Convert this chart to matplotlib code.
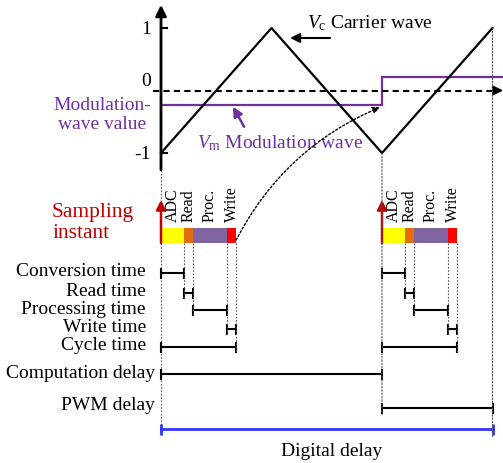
import matplotlib.pyplot as plt
from matplotlib.patches import ConnectionPatch
import numpy as np

plt.rcParams['font.family'] = 'Liberation Serif'
plt.rcParams['mathtext.fontset'] = 'custom'
plt.rcParams['mathtext.rm'] = 'Liberation Serif'
plt.rcParams['mathtext.it'] = 'Liberation Serif:italic'

# time axis in carrier periods (sampling instant = 0 and 1)
carrier_t = [0.0, 0.5, 1.0, 1.5]
carrier_v = [-1, 1, -1, 1]
mod_edges = [0.0, 1.0, 1.55]
mod_levels = [-0.23, 0.22]

samples = [0.0, 1.0]
seg_names = ['ADC', 'Read', 'Proc.', 'Write']
seg_dur = [0.104, 0.041, 0.154, 0.041]
seg_colors = ['#FFFF00', '#E46C0A', '#8064A2', '#FF0000']
row_names = ['Conversion time', 'Read time', 'Processing time', 'Write time', 'Cycle time']
comp_delay = (0.0, 1.0)
pwm_delay = (1.0, 1.5)
digital_delay = (0.0, 1.5)

PURPLE = '#7030A0'
DRED = '#C00000'
FS = 14

W, H = 503, 463
fig = plt.figure(figsize=(W / 100, H / 100), dpi=100)
xlim = (-161 / 221, (W - 161) / 221)

# lower part: timing rows, y in pixel-like layout units
ax = fig.add_axes([0, 0, 1, 1])
ax.set_xlim(*xlim)
ax.set_ylim(H, 0)
ax.axis('off')

# upper part: carrier / modulation waves
top_h = 180
axt = fig.add_axes([0, 1 - top_h / H, 1, top_h / H])
axt.set_xlim(*xlim)
axt.set_ylim(-(top_h - 90.5) / 62.5, 90.5 / 62.5)
axt.axis('off')
axt.patch.set_alpha(0)

# vertical axis with arrow
axt.annotate('', xy=(0, 1.37), xytext=(0, -1.27),
             arrowprops=dict(arrowstyle='-|>', lw=2, color='k', mutation_scale=16,
                             shrinkA=0, shrinkB=0))
for v, lab in [(1, '1'), (-1, '-1')]:
    axt.plot([0, 0.025], [v, v], color='k', lw=1.5)
    axt.text(-0.045, v - 0.03, lab, ha='right', va='center', fontsize=FS)
axt.text(-0.045, 0.15, '0', ha='right', va='center', fontsize=FS)

# zero line dashed with arrow
axt.plot([-0.036, 1.52], [0, 0], color='k', lw=1.5, ls=(0, (3, 2)))
axt.annotate('', xy=(1.548, 0), xytext=(1.52, 0),
             arrowprops=dict(arrowstyle='-|>', lw=1.5, color='k', mutation_scale=14,
                             shrinkA=0, shrinkB=0))

axt.plot(carrier_t, carrier_v, color='k', lw=1.6)
axt.stairs(mod_levels, mod_edges, baseline=None, color=PURPLE, lw=1.6)

axt.text(0.661, 1.08, r'$V_{\mathrm{c}}$ Carrier wave', ha='left', va='center', fontsize=FS)
axt.annotate('', xy=(0.584, 0.84), xytext=(0.765, 0.84),
             arrowprops=dict(arrowstyle='-|>', lw=1.5, color='k', mutation_scale=14,
                             shrinkA=0, shrinkB=0))
axt.text(0.163, -0.84, r'$V_{\mathrm{m}}$ Modulation wave', ha='left', va='center',
         fontsize=FS, color=PURPLE)
axt.annotate('', xy=(0.326, -0.26), xytext=(0.376, -0.58),
             arrowprops=dict(arrowstyle='-|>', lw=1.8, color=PURPLE, mutation_scale=14,
                             shrinkA=0, shrinkB=0))
axt.text(-0.267, -0.39, 'Modulation-\nwave value', ha='center', va='center',
         fontsize=FS, color=PURPLE, linespacing=1.2)

# rows layout (pixel units)
bar_top, bar_bot = 228, 243
row_y = [273, 293, 310, 329, 347]
comp_y, pwm_y, dig_y = 374, 408, 429
tick = 5.5
dot = dict(color='#555555', lw=0.8, ls=(0, (1.5, 1.5)))


def bracket(x0, x1, y, color='k', lw=1.5):
    ax.plot([x0, x1], [y, y], color=color, lw=lw)
    ax.vlines([x0, x1], y - tick, y + tick, color=color, lw=lw)


for s in samples:
    left = s + np.concatenate([[0], np.cumsum(seg_dur)[:-1]])
    ax.barh((bar_top + bar_bot) / 2, seg_dur, left=left, height=bar_bot - bar_top,
            color=seg_colors, zorder=3)
    for name, l, d in zip(seg_names, left, seg_dur):
        ax.text(l + d / 2, 222, name, rotation=90, ha='center', va='bottom', fontsize=11.5)
    ax.annotate('', xy=(s, 200), xytext=(s, bar_bot),
                arrowprops=dict(arrowstyle='-|>', lw=1.8, color=DRED, mutation_scale=14,
                                shrinkA=0, shrinkB=0), zorder=4)
    ends = left + np.array(seg_dur)
    for i in range(4):
        bracket(left[i], ends[i], row_y[i])
    bracket(s, ends[-1], row_y[4])
    # dotted guides from block edges
    for i in range(4):
        ax.plot([ends[i], ends[i]], [bar_bot, row_y[i + 1] + tick], **dot)
    if s == 0:
        for name, y in zip(row_names, row_y):
            ax.text(-0.068, y - 1, name, ha='right', va='center', fontsize=FS)

ax.plot([0, 0], [170, 435], **dot, zorder=1)
bracket(*comp_delay, comp_y)
bracket(*pwm_delay, pwm_y)
bracket(*digital_delay, dig_y, color='#3333FF', lw=2)
ax.text(-0.027, comp_y - 1, 'Computation delay', ha='right', va='center', fontsize=FS)
ax.text(-0.027, pwm_y - 3, 'PWM delay', ha='right', va='center', fontsize=FS)
ax.text(np.mean(digital_delay) + 0.02, 451, 'Digital delay', ha='center', va='center', fontsize=FS)
ax.text(-0.493, 223, 'Sampling\ninstant', ha='left', va='center', fontsize=15.5,
        color=DRED, linespacing=1.1)

# dotted verticals linking waves and rows
for t, v, yb in [(1.0, -1, 415), (1.5, 1, 437)]:
    cp = ConnectionPatch(xyA=(t, v), coordsA=axt.transData, xyB=(t, yb), coordsB=ax.transData,
                         **dot)
    fig.add_artist(cp)

# curved dotted arrow: written value becomes modulation at next sample
write_end = samples[0] + sum(seg_dur)
cp = ConnectionPatch(xyA=(write_end, 240), coordsA=ax.transData,
                     xyB=(samples[1] - 0.01, mod_levels[0] - 0.04), coordsB=axt.transData,
                     arrowstyle='-|>', connectionstyle='arc3,rad=-0.18', color='k', lw=1,
                     ls=(0, (1.5, 1.5)), mutation_scale=10, shrinkA=0, shrinkB=0)
fig.add_artist(cp)

fig.savefig('out.png', dpi=100)
